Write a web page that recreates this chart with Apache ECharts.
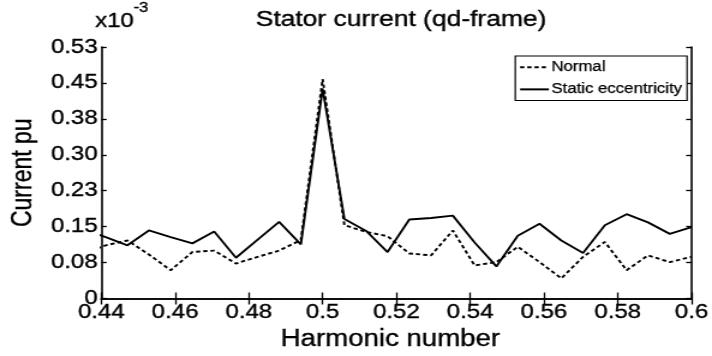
<!DOCTYPE html>
<html>
<head>
<meta charset="utf-8">
<script src="https://cdn.jsdelivr.net/npm/echarts@6/dist/echarts.min.js"></script>
<style>
  html, body { margin: 0; padding: 0; background: #fff; overflow: hidden; }
  #wrap { width: 712px; height: 356px; overflow: hidden; }
  #chart { width: 593px; height: 356px; transform: scaleX(1.2007); transform-origin: 0 0; }
</style>
</head>
<body>
<div id="wrap"><div id="chart"></div></div>
<script>
const harmonic = [0.4353, 0.4412, 0.4471, 0.4529, 0.4588, 0.4647, 0.4706, 0.4765, 0.4824, 0.4882, 0.4941,
  0.5, 0.5059, 0.5118, 0.5176, 0.5235, 0.5294, 0.5353, 0.5412, 0.5471, 0.5529, 0.5588, 0.5647, 0.5706,
  0.5765, 0.5824, 0.5882, 0.5941, 0.6];
const normal = [0.094, 0.111, 0.121, 0.092, 0.059, 0.097, 0.100, 0.073, 0.087, 0.100, 0.122,
  0.458, 0.153, 0.139, 0.130, 0.094, 0.090, 0.142, 0.069, 0.076, 0.108, 0.076, 0.042, 0.087,
  0.118, 0.059, 0.090, 0.076, 0.087];
const staticEcc = [0.145, 0.128, 0.111, 0.142, 0.128, 0.115, 0.140, 0.085, 0.123, 0.160, 0.113,
  0.438, 0.166, 0.141, 0.097, 0.165, 0.168, 0.173, 0.117, 0.067, 0.131, 0.156, 0.121, 0.095,
  0.153, 0.176, 0.159, 0.135, 0.149];
const xTickLabels = ['0.44', '0.46', '0.48', '0.5', '0.52', '0.54', '0.56', '0.58', '0.6'];
const yTickLabels = ['0', '0.08', '0.15', '0.23', '0.30', '0.38', '0.45', '0.53'];
const seriesNames = ['Normal', 'Static eccentricity'];

const FONT = 'Liberation Sans, Arial, Helvetica, sans-serif';
const chart = echarts.init(document.getElementById('chart'), null, { renderer: 'canvas' });

const bold = { textBorderColor: '#000', textBorderWidth: 0.35 };
const axisLine = { show: true, lineStyle: { color: '#000', width: 1.6 } };
const tick = { show: true, inside: true, lineStyle: { color: '#000', width: 1.3 } };
const xBase = { type: 'value', min: 0.44, max: 0.6, interval: 0.02, splitLine: { show: false } };
const yBase = { type: 'value', min: 0, max: 0.525, interval: 0.075, splitLine: { show: false } };

chart.setOption({
  animation: false,
  backgroundColor: '#fff',
  title: {
    text: 'Stator current (qd-frame)',
    left: 329, top: 4, textAlign: 'center',
    textStyle: Object.assign({ fontFamily: FONT, fontSize: 22, fontWeight: 'normal', color: '#000' }, bold)
  },
  graphic: [
    { type: 'text', left: 79, top: 11, style: { text: 'x10', font: '20px ' + FONT, fill: '#000', stroke: '#000', lineWidth: 0.35 } },
    { type: 'text', left: 111, top: 1, style: { text: '-3', font: '14px ' + FONT, fill: '#000', stroke: '#000', lineWidth: 0.3 } }
  ],
  grid: { left: 80.8, right: 16.7, top: 47, bottom: 57.5, containLabel: false },
  legend: {
    data: seriesNames,
    orient: 'vertical',
    right: 20.8, top: 56,
    itemWidth: 24, itemHeight: 10, itemGap: 8,
    padding: [4, 4, 4, 3],
    backgroundColor: '#fff', borderColor: '#000', borderWidth: 1.2,
    itemStyle: { opacity: 0 },
    textStyle: Object.assign({ fontFamily: FONT, fontSize: 14, color: '#000', padding: [0, 0, 0, -3] },
      { textBorderColor: '#000', textBorderWidth: 0.25 })
  },
  xAxis: [
    Object.assign({}, xBase, {
      position: 'bottom',
      name: 'Harmonic number', nameLocation: 'middle', nameGap: 29,
      nameTextStyle: Object.assign({ fontFamily: FONT, fontSize: 23, color: '#000', padding: [0, 10, 0, 0] }, bold),
      axisLine: axisLine,
      axisTick: Object.assign({ length: 6 }, tick),
      axisLabel: Object.assign({ fontFamily: FONT, fontSize: 20, color: '#000', margin: 4,
        formatter: (v, i) => xTickLabels[i] }, bold)
    }),
    Object.assign({}, xBase, {
      position: 'top',
      axisLine: axisLine,
      axisTick: Object.assign({ length: 6 }, tick),
      axisLabel: { show: false }
    })
  ],
  yAxis: [
    Object.assign({}, yBase, {
      position: 'left',
      name: 'Current pu', nameLocation: 'middle', nameGap: 50,
      nameTextStyle: Object.assign({ fontFamily: FONT, fontSize: 23, color: '#000' }, bold),
      axisLine: axisLine,
      axisTick: Object.assign({ length: 4.5 }, tick),
      axisLabel: Object.assign({ fontFamily: FONT, fontSize: 20, color: '#000', margin: 3,
        formatter: (v, i) => yTickLabels[i] }, bold)
    }),
    Object.assign({}, yBase, {
      position: 'right',
      axisLine: axisLine,
      axisTick: Object.assign({ length: 4.5 }, tick),
      axisLabel: { show: false }
    })
  ],
  series: [
    {
      name: seriesNames[0], type: 'line', xAxisIndex: 0, yAxisIndex: 0,
      data: harmonic.map((h, i) => [h, normal[i]]),
      showSymbol: false, symbol: 'none', clip: true,
      lineStyle: { color: '#000', width: 1.9, type: [3.5, 2.5] },
      itemStyle: { color: '#000' }
    },
    {
      name: seriesNames[1], type: 'line', xAxisIndex: 0, yAxisIndex: 0,
      data: harmonic.map((h, i) => [h, staticEcc[i]]),
      showSymbol: false, symbol: 'none', clip: true,
      lineStyle: { color: '#000', width: 1.9, type: 'solid' },
      itemStyle: { color: '#000' }
    }
  ]
});
</script>
</body>
</html>
